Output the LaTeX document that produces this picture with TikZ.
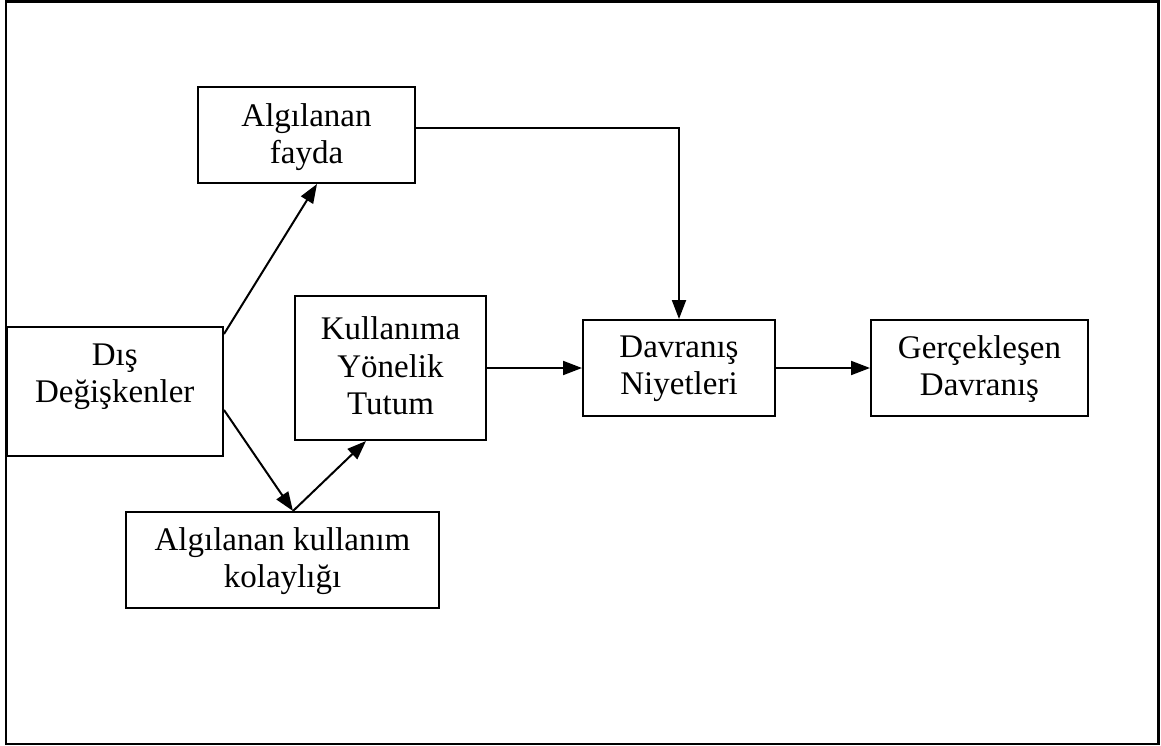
\documentclass[tikz,border=0pt]{standalone}
\usepackage{fontspec}
\setmainfont{Liberation Serif}
\usetikzlibrary{arrows.meta}
\begin{document}
\begin{tikzpicture}[x=1pt,y=-1pt,
  box/.style={draw, line width=2pt, inner sep=0pt, fill=white},
  txt/.style={align=center, inner sep=0pt, font=\fontsize{33}{37.5}\selectfont},
  arr/.style={line width=2pt, -{Triangle[length=19pt,width=14pt]}}]
\useasboundingbox (0,0) rectangle (1161,746);
% outer frame
\draw[line width=2.2pt] (6,1.5) rectangle (1158.5,744);

% boxes
\node[box, minimum width=217pt, minimum height=96pt] (fayda) at (306.5,135) {};
\node[box, minimum width=216.5pt, minimum height=129pt] (dis) at (114.75,391.5) {};
\node[box, minimum width=191pt, minimum height=144pt] (kull) at (390.5,368) {};
\node[box, minimum width=192pt, minimum height=96pt] (dav) at (679,368) {};
\node[box, minimum width=217pt, minimum height=96pt] (ger) at (979.5,368) {};
\node[box, minimum width=313pt, minimum height=96pt] (kol) at (282.5,560) {};

% labels
\node[txt] (fayda-t) at (306.5,137) {Algılanan\\fayda};
\node[txt] (dis-t) at (114.75,377) {Dış\\Değişkenler};
\node[txt] (kull-t) at (390.5,366) {Kullanıma\\Yönelik\\Tutum};
\node[txt] (dav-t) at (679,369) {Davranış\\Niyetleri};
\node[txt] (ger-t) at (979.5,369) {Gerçekleşen\\Davranış};
\node[txt] (kol-t) at (282.5,561) {Algılanan kullanım\\kolaylığı};

% connectors
\coordinate (k1) at ([xshift=10.5pt]kol.north);
\draw[arr] ([yshift=7pt]fayda.east) -| (dav.north);
\draw[arr] ([yshift=-8pt]dis.north east) -- ([xshift=10.5pt]fayda.south);
\draw[arr] ([yshift=-18.5pt]dis.east) -- (k1);
\draw[arr] (k1) -- ([xshift=-24.5pt]kull.south);
\draw[arr] (kull.east) -- (dav.west);
\draw[arr] (dav.east) -- (ger.west);
\end{tikzpicture}
\end{document}
